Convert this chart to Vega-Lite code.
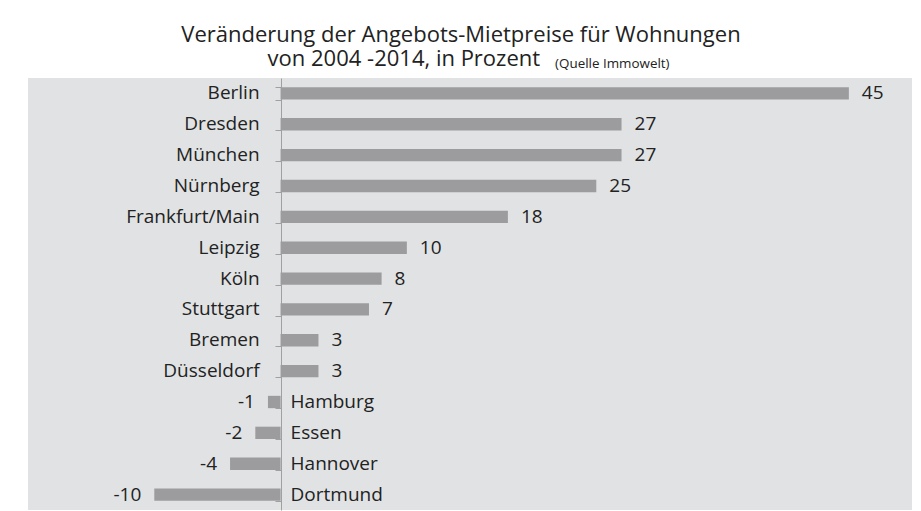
{
  "$schema": "https://vega.github.io/schema/vega-lite/v6.json",
  "width": 884,
  "height": 432,
  "autosize": {"type": "none"},
  "padding": {"left": 28, "top": 78, "right": 9, "bottom": 1},
  "background": "white",
  "title": {
    "text": ["Veränderung der Angebots-Mietpreise für Wohnungen", "von 2004 -2014, in Prozent\u00a0\u00a0\u00a0\u00a0\u00a0\u00a0\u00a0\u00a0\u00a0\u00a0\u00a0\u00a0\u00a0\u00a0\u00a0\u00a0\u00a0\u00a0\u00a0\u00a0\u200b"],
    "subtitle": "\u200b\u00a0\u00a0\u00a0\u00a0\u00a0\u00a0\u00a0\u00a0\u00a0\u00a0\u00a0\u00a0\u00a0\u00a0\u00a0\u00a0\u00a0\u00a0\u00a0\u00a0\u00a0\u00a0\u00a0\u00a0\u00a0\u00a0\u00a0\u00a0\u00a0\u00a0\u00a0\u00a0\u00a0\u00a0\u00a0\u00a0\u00a0\u00a0\u00a0\u00a0\u00a0\u00a0\u00a0\u00a0\u00a0\u00a0\u00a0\u00a0\u00a0\u00a0\u00a0\u00a0\u00a0\u00a0\u00a0\u00a0\u00a0\u00a0\u00a0\u00a0\u00a0\u00a0\u00a0\u00a0\u00a0\u00a0\u00a0\u00a0\u00a0\u00a0\u00a0\u00a0\u00a0\u00a0\u00a0\u00a0\u00a0\u00a0\u00a0\u00a0\u00a0\u00a0\u00a0\u00a0\u00a0\u00a0\u00a0(Quelle Immowelt)",
    "anchor": "middle",
    "frame": "group",
    "dx": -9,
    "font": "Open Sans",
    "fontSize": 22,
    "fontWeight": "normal",
    "color": "#222222",
    "lineHeight": 24,
    "subtitleFont": "Open Sans",
    "subtitleFontSize": 13.4,
    "subtitleColor": "#222222",
    "subtitlePadding": -14,
    "offset": 7
  },
  "config": {
    "view": {"fill": "#e1e2e4", "stroke": null},
    "text": {"font": "Open Sans", "fontSize": 19, "color": "#222222"}
  },
  "data": {
    "values": [
      {"city": "Berlin", "value": 45},
      {"city": "Dresden", "value": 27},
      {"city": "München", "value": 27},
      {"city": "Nürnberg", "value": 25},
      {"city": "Frankfurt/Main", "value": 18},
      {"city": "Leipzig", "value": 10},
      {"city": "Köln", "value": 8},
      {"city": "Stuttgart", "value": 7},
      {"city": "Bremen", "value": 3},
      {"city": "Düsseldorf", "value": 3},
      {"city": "Hamburg", "value": -1},
      {"city": "Essen", "value": -2},
      {"city": "Hannover", "value": -4},
      {"city": "Dortmund", "value": -10}
    ]
  },
  "encoding": {
    "y": {
      "field": "city",
      "type": "nominal",
      "sort": null,
      "scale": {"paddingInner": 0.6, "paddingOuter": 0.3},
      "axis": {
        "title": null,
        "labels": false,
        "orient": "left",
        "offset": -253,
        "tickBand": "extent",
        "tickSize": 6,
        "tickColor": "#a0a0a0",
        "domainColor": "#a0a0a0",
        "tickWidth": 1,
        "domainWidth": 1
      }
    }
  },
  "layer": [
    {
      "mark": {"type": "bar", "color": "#9c9c9e"},
      "encoding": {
        "x": {"field": "value", "type": "quantitative", "scale": {"domain": [-20, 50], "nice": false, "zero": true}, "axis": null}
      }
    },
    {
      "transform": [{"filter": "datum.value >= 0"}],
      "mark": {"type": "text", "align": "left", "baseline": "middle", "dx": 13},
      "encoding": {
        "x": {"field": "value", "type": "quantitative"},
        "text": {"field": "value", "type": "nominal"}
      }
    },
    {
      "transform": [{"filter": "datum.value < 0"}],
      "mark": {"type": "text", "align": "right", "baseline": "middle", "dx": -13},
      "encoding": {
        "x": {"field": "value", "type": "quantitative"},
        "text": {"field": "value", "type": "nominal"}
      }
    },
    {
      "transform": [{"filter": "datum.value >= 0"}],
      "mark": {"type": "text", "align": "right", "baseline": "middle", "dx": -21},
      "encoding": {
        "x": {"datum": 0, "type": "quantitative"},
        "text": {"field": "city", "type": "nominal"}
      }
    },
    {
      "transform": [{"filter": "datum.value < 0"}],
      "mark": {"type": "text", "align": "left", "baseline": "middle", "dx": 10},
      "encoding": {
        "x": {"datum": 0, "type": "quantitative"},
        "text": {"field": "city", "type": "nominal"}
      }
    }
  ]
}
